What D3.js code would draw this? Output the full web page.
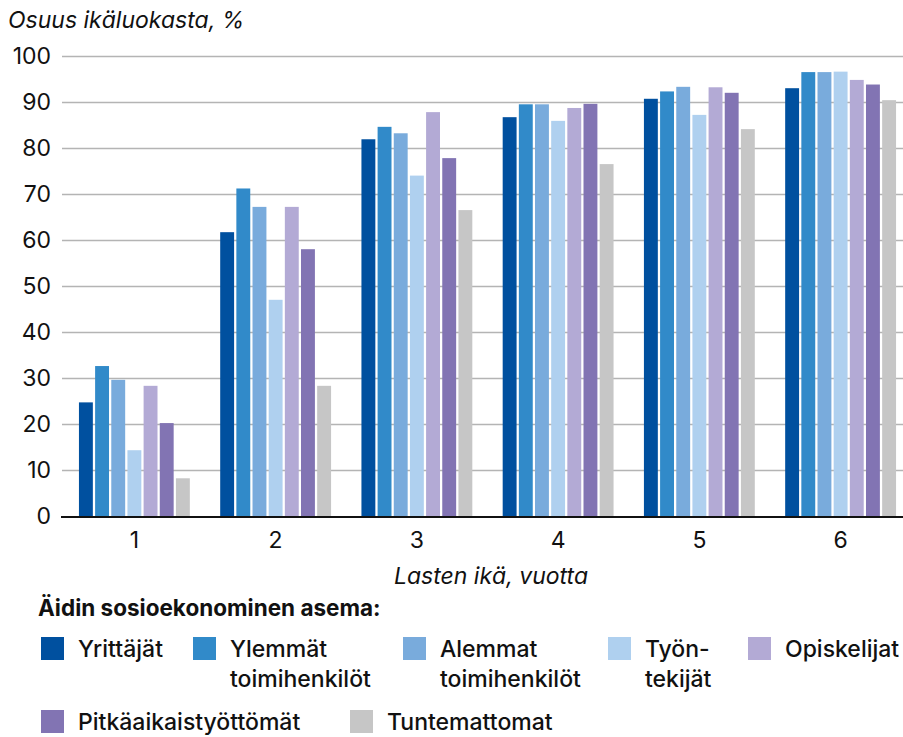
<!DOCTYPE html>
<html>
<head>
<meta charset="utf-8">
<script src="https://cdn.jsdelivr.net/npm/d3@7"></script>
<style>
  body { margin: 0; background: #fff; }
  svg { display: block; font-family: Inter, "Noto Sans", sans-serif; }
</style>
</head>
<body>
<svg id="chart" width="903" height="737"></svg>
<script>
// Child age groups (years)
const ages = ["1", "2", "3", "4", "5", "6"];

// Mother's socioeconomic status
const groups = ["Yrittäjät", "Ylemmät toimihenkilöt", "Alemmat toimihenkilöt", "Työntekijät",
                "Opiskelijat", "Pitkäaikaistyöttömät", "Tuntemattomat"];
const legendLines = [["Yrittäjät"], ["Ylemmät", "toimihenkilöt"], ["Alemmat", "toimihenkilöt"],
                     ["Työn-", "tekijät"], ["Opiskelijat"], ["Pitkäaikaistyöttömät"], ["Tuntemattomat"]];
const colors = ["#00509f", "#318ac9", "#79abdc", "#afd0ef", "#b3aad5", "#8274b3", "#c6c6c6"];

// Share of age cohort, % — one array per status group, by child age 1..6
const yrittajat      = [24.7, 61.7, 81.9, 86.7, 90.7, 93.0];
const ylemmat        = [32.6, 71.2, 84.6, 89.5, 92.3, 96.5];
const alemmat        = [29.6, 67.2, 83.2, 89.5, 93.3, 96.5];
const tyontekijat    = [14.3, 47.0, 74.0, 85.9, 87.2, 96.6];
const opiskelijat    = [28.3, 67.2, 87.8, 88.7, 93.2, 94.8];
const pitkaaikais    = [20.2, 58.0, 77.8, 89.6, 92.0, 93.8];
const tuntemattomat  = [8.2, 28.3, 66.5, 76.5, 84.1, 90.4];
const seriesValues = [yrittajat, ylemmat, alemmat, tyontekijat, opiskelijat, pitkaaikais, tuntemattomat];

const yTicks = [0, 10, 20, 30, 40, 50, 60, 70, 80, 90, 100];

const svg = d3.select("#chart");
const plotLeft = 62, plotRight = 913, plotTop = 56, plotBottom = 516;
const fontSize = 23;

const x0 = d3.scaleBand().domain(ages).range([plotLeft, plotRight]).paddingInner(0.215).paddingOuter(0.12);
const x1 = d3.scaleBand().domain(groups).range([0, x0.bandwidth()]).paddingInner(0.14).paddingOuter(0);
const y = d3.scaleLinear().domain([0, 100]).range([plotBottom, plotTop]);

// Gridlines and y labels
const yAxis = d3.axisLeft(y).tickValues(yTicks).tickSize(-(plotRight - plotLeft)).tickPadding(12);
const gy = svg.append("g").attr("transform", `translate(${plotLeft},0)`).call(yAxis);
gy.select(".domain").remove();
gy.selectAll(".tick line").attr("stroke", "#b4b4b4").attr("stroke-width", 1.4)
  .filter(d => d === 0).remove();
gy.selectAll(".tick text").attr("font-size", fontSize).attr("fill", "#111").attr("x", -11)
  .attr("font-family", "Inter, sans-serif");

// Bars
const gBars = svg.append("g");
ages.forEach((age, ai) => {
  const g = gBars.append("g").attr("transform", `translate(${x0(age)},0)`);
  groups.forEach((grp, gi) => {
    const v = seriesValues[gi][ai];
    g.append("rect")
      .attr("x", x1(grp))
      .attr("y", y(v))
      .attr("width", x1.bandwidth())
      .attr("height", y(0) - y(v))
      .attr("fill", colors[gi]);
  });
});

// Baseline
svg.append("line").attr("x1", plotLeft - 1).attr("x2", 903).attr("y1", y(0) + 1).attr("y2", y(0) + 1)
  .attr("stroke", "#111").attr("stroke-width", 2);

// X axis labels
const xAxis = d3.axisBottom(x0).tickSize(0).tickPadding(14);
const gx = svg.append("g").attr("transform", `translate(0,${plotBottom + 2})`).call(xAxis);
gx.select(".domain").remove();
gx.selectAll(".tick text").attr("font-size", fontSize).attr("fill", "#111")
  .attr("font-family", "Inter, sans-serif");

// Titles
svg.append("text").attr("x", 8).attr("y", 28).attr("font-size", fontSize).attr("font-style", "italic")
  .attr("fill", "#111").text("Osuus ikäluokasta, %");
svg.append("text").attr("x", 491).attr("y", 584).attr("text-anchor", "middle")
  .attr("font-size", fontSize).attr("font-style", "italic").attr("fill", "#111").text("Lasten ikä, vuotta");

// Legend
svg.append("text").attr("x", 38).attr("y", 616).attr("font-size", 22.5).attr("font-weight", 700)
  .attr("fill", "#111").text("Äidin sosioekonominen asema:");

const legendPos = [[41, 637], [193, 637], [403, 637], [608, 637], [748, 637], [41, 710], [350, 710]];
groups.forEach((grp, gi) => {
  const [lx, ly] = legendPos[gi];
  const item = svg.append("g").attr("transform", `translate(${lx},${ly})`);
  item.append("rect").attr("width", 23).attr("height", 23).attr("fill", colors[gi]);
  const t = item.append("text").attr("x", 37).attr("y", 20).attr("font-size", fontSize)
    .attr("font-weight", 500).attr("fill", "#111");
  legendLines[gi].forEach((line, li) => {
    t.append("tspan").attr("x", 37).attr("dy", li === 0 ? 0 : 30).text(line);
  });
});
</script>
</body>
</html>
